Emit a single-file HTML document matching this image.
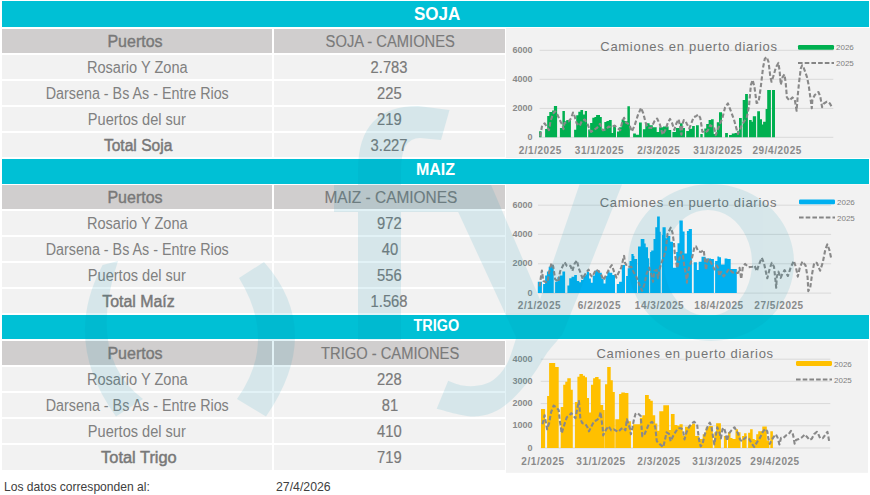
<!DOCTYPE html>
<html><head><meta charset="utf-8"><style>
*{margin:0;padding:0;box-sizing:border-box}
html,body{width:870px;height:495px;overflow:hidden;background:#fff}
body{position:relative;font-family:"Liberation Sans",sans-serif}
.r{position:absolute}
.t{position:absolute;white-space:nowrap}
svg{position:absolute;left:0;top:0}
.yl{font-size:9px;font-weight:bold;fill:#8A8A8A;font-family:"Liberation Sans",sans-serif}
.xl{font-size:10px;font-weight:bold;fill:#8A8A8A;font-family:"Liberation Sans",sans-serif;letter-spacing:0.55px}
.ti{font-size:13px;fill:#757575;font-family:"Liberation Sans",sans-serif;letter-spacing:0.71px}
.lg{font-size:8px;fill:#7F7F7F;font-family:"Liberation Sans",sans-serif}
</style></head><body>
<svg width="870" height="495" viewBox="0 0 870 495"><rect x="506" y="28" width="364" height="130" fill="#F2F2F2"/><line x1="539.6" y1="50.3" x2="833.3" y2="50.3" stroke="#D9D9D9" stroke-width="1"/><text x="532.5" y="52.9" text-anchor="end" class="yl">6000</text><line x1="539.6" y1="79.3" x2="833.3" y2="79.3" stroke="#D9D9D9" stroke-width="1"/><text x="532.5" y="81.9" text-anchor="end" class="yl">4000</text><line x1="539.6" y1="108.4" x2="833.3" y2="108.4" stroke="#D9D9D9" stroke-width="1"/><text x="532.5" y="111.0" text-anchor="end" class="yl">2000</text><line x1="539.6" y1="137.3" x2="833.3" y2="137.3" stroke="#D9D9D9" stroke-width="1"/><text x="532.5" y="139.9" text-anchor="end" class="yl">0</text><text x="540.3" y="153.5" text-anchor="middle" class="xl">2/1/2025</text><text x="599.5" y="153.5" text-anchor="middle" class="xl">31/1/2025</text><text x="658.8" y="153.5" text-anchor="middle" class="xl">2/3/2025</text><text x="718" y="153.5" text-anchor="middle" class="xl">31/3/2025</text><text x="777.2" y="153.5" text-anchor="middle" class="xl">29/4/2025</text><text x="600.3" y="51.2" class="ti">Camiones en puerto diarios</text><rect x="798" y="45.0" width="36" height="4.8" rx="1.3" fill="#00B050"/><text x="836" y="50.4" class="lg">2026</text><line x1="798" y1="63" x2="834" y2="63" stroke="#858585" stroke-width="2" stroke-dasharray="4.6,2.1"/><text x="836" y="66" class="lg">2025</text><rect x="506" y="184.5" width="364" height="130.5" fill="#F2F2F2"/><line x1="538" y1="205.2" x2="831.1" y2="205.2" stroke="#D9D9D9" stroke-width="1"/><text x="532.5" y="207.8" text-anchor="end" class="yl">6000</text><line x1="538" y1="234.4" x2="831.1" y2="234.4" stroke="#D9D9D9" stroke-width="1"/><text x="532.5" y="237.0" text-anchor="end" class="yl">4000</text><line x1="538" y1="263.8" x2="831.1" y2="263.8" stroke="#D9D9D9" stroke-width="1"/><text x="532.5" y="266.4" text-anchor="end" class="yl">2000</text><line x1="538" y1="293.1" x2="831.1" y2="293.1" stroke="#D9D9D9" stroke-width="1"/><text x="532.5" y="295.7" text-anchor="end" class="yl">0</text><text x="539.5" y="308.9" text-anchor="middle" class="xl">2/1/2025</text><text x="599.4" y="308.9" text-anchor="middle" class="xl">6/2/2025</text><text x="659.5" y="308.9" text-anchor="middle" class="xl">14/3/2025</text><text x="719" y="308.9" text-anchor="middle" class="xl">18/4/2025</text><text x="779" y="308.9" text-anchor="middle" class="xl">27/5/2025</text><text x="599.7" y="207" class="ti">Camiones en puerto diarios</text><rect x="799" y="199.4" width="36" height="4.8" rx="1.3" fill="#00B0F0"/><text x="837" y="204.8" class="lg">2026</text><line x1="799" y1="217.6" x2="835" y2="217.6" stroke="#858585" stroke-width="2" stroke-dasharray="4.6,2.1"/><text x="837" y="220.6" class="lg">2025</text><rect x="506" y="340.5" width="362" height="132.3" fill="#F2F2F2"/><line x1="540.7" y1="359.2" x2="830.3" y2="359.2" stroke="#D9D9D9" stroke-width="1"/><text x="532.5" y="361.8" text-anchor="end" class="yl">4000</text><line x1="540.7" y1="381.3" x2="830.3" y2="381.3" stroke="#D9D9D9" stroke-width="1"/><text x="532.5" y="383.9" text-anchor="end" class="yl">3000</text><line x1="540.7" y1="403.6" x2="830.3" y2="403.6" stroke="#D9D9D9" stroke-width="1"/><text x="532.5" y="406.2" text-anchor="end" class="yl">2000</text><line x1="540.7" y1="425.8" x2="830.3" y2="425.8" stroke="#D9D9D9" stroke-width="1"/><text x="532.5" y="428.4" text-anchor="end" class="yl">1000</text><line x1="540.7" y1="448" x2="830.3" y2="448" stroke="#D9D9D9" stroke-width="1"/><text x="532.5" y="450.6" text-anchor="end" class="yl">0</text><text x="543" y="465.0" text-anchor="middle" class="xl">2/1/2025</text><text x="601" y="465.0" text-anchor="middle" class="xl">31/1/2025</text><text x="659" y="465.0" text-anchor="middle" class="xl">2/3/2025</text><text x="717" y="465.0" text-anchor="middle" class="xl">31/3/2025</text><text x="775" y="465.0" text-anchor="middle" class="xl">29/4/2025</text><text x="596.4" y="358.1" class="ti">Camiones en puerto diarios</text><rect x="796" y="361.1" width="36" height="4.8" rx="1.3" fill="#FFC000"/><text x="834" y="366.5" class="lg">2026</text><line x1="796" y1="379.5" x2="832" y2="379.5" stroke="#858585" stroke-width="2" stroke-dasharray="4.6,2.1"/><text x="834" y="382.5" class="lg">2025</text><path d="M539.1,137.3 V131.2 H541.5 V137.3 Z M545.1,137.3 V129.1 H547.2 V137.3 Z M547.2,137.3 V116.0 H549.3 V137.3 Z M549.3,137.3 V112.1 H552.1 V137.3 Z M552.1,137.3 V110.4 H553.9 V137.3 Z M553.9,137.3 V106.1 H557.1 V137.3 Z M559.9,137.3 V128.0 H562.4 V137.3 Z M562.4,137.3 V111.1 H564.9 V137.3 Z M564.9,137.3 V121.3 H566.3 V137.3 Z M566.3,137.3 V120.1 H570.9 V137.3 Z M574.1,137.3 V129.8 H576.2 V137.3 Z M576.2,137.3 V115.3 H578.3 V137.3 Z M578.3,137.3 V111.8 H580.4 V137.3 Z M580.4,137.3 V110.0 H583.1 V137.3 Z M583.1,137.3 V114.6 H584.8 V137.3 Z M584.8,137.3 V111.1 H587.0 V137.3 Z M588.2,137.3 V129.5 H590.1 V137.3 Z M590.1,137.3 V123.1 H592.3 V137.3 Z M592.3,137.3 V117.8 H594.4 V137.3 Z M594.4,137.3 V117.1 H596.1 V137.3 Z M596.1,137.3 V115.0 H600.0 V137.3 Z M600.0,137.3 V117.1 H601.8 V137.3 Z M601.8,137.3 V129.5 H604.3 V137.3 Z M604.3,137.3 V122.0 H606.4 V137.3 Z M606.4,137.3 V121.0 H608.9 V137.3 Z M608.9,137.3 V120.1 H611.7 V137.3 Z M611.7,137.3 V133.0 H613.1 V137.3 Z M613.1,137.3 V125.2 H616.0 V137.3 Z M617.0,137.3 V131.6 H619.1 V137.3 Z M619.1,137.3 V127.3 H621.6 V137.3 Z M621.6,137.3 V119.6 H624.4 V137.3 Z M624.4,137.3 V121.0 H626.0 V137.3 Z M626.0,137.3 V121.3 H627.4 V137.3 Z M627.4,137.3 V106.3 H629.9 V137.3 Z M633.1,137.3 V133.5 H635.9 V137.3 Z M635.9,137.3 V134.7 H639.0 V137.3 Z M639.0,137.3 V122.5 H641.8 V137.3 Z M642.9,137.3 V129.2 H645.3 V137.3 Z M645.3,137.3 V123.2 H649.6 V137.3 Z M649.6,137.3 V125.2 H652.8 V137.3 Z M652.8,137.3 V127.2 H656.7 V137.3 Z M656.7,137.3 V131.9 H659.1 V137.3 Z M659.1,137.3 V127.2 H663.0 V137.3 Z M663.0,137.3 V126.4 H668.6 V137.3 Z M668.6,137.3 V130.1 H671.2 V137.3 Z M672.4,137.3 V131.9 H675.9 V137.3 Z M675.9,137.3 V128.0 H679.9 V137.3 Z M679.9,137.3 V123.2 H682.6 V137.3 Z M682.6,137.3 V128.0 H685.0 V137.3 Z M686.2,137.3 V131.1 H688.9 V137.3 Z M688.9,137.3 V128.8 H692.1 V137.3 Z M692.1,137.3 V126.0 H694.8 V137.3 Z M696.0,137.3 V125.2 H698.8 V137.3 Z M700.3,137.3 V134.0 H702.7 V137.3 Z M704.3,137.3 V128.4 H706.2 V137.3 Z M706.2,137.3 V124.0 H708.6 V137.3 Z M708.6,137.3 V120.1 H711.0 V137.3 Z M711.0,137.3 V119.3 H713.7 V137.3 Z M713.7,137.3 V134.0 H716.8 V137.3 Z M716.8,137.3 V122.3 H719.0 V137.3 Z M719.0,137.3 V112.3 H722.0 V137.3 Z M725.1,137.3 V132.9 H727.9 V137.3 Z M729.0,137.3 V135.1 H731.8 V137.3 Z M731.8,137.3 V133.4 H734.6 V137.3 Z M734.6,137.3 V132.9 H737.3 V137.3 Z M737.3,137.3 V130.7 H739.0 V137.3 Z M739.0,137.3 V117.9 H741.8 V137.3 Z M742.7,137.3 V100.1 H745.1 V137.3 Z M745.1,137.3 V94.0 H747.9 V137.3 Z M749.0,137.3 V120.1 H751.7 V137.3 Z M751.7,137.3 V121.8 H752.8 V137.3 Z M752.8,137.3 V116.2 H756.1 V137.3 Z M757.2,137.3 V111.2 H760.0 V137.3 Z M760.0,137.3 V119.3 H762.0 V137.3 Z M762.0,137.3 V124.6 H763.1 V137.3 Z M763.1,137.3 V121.8 H765.6 V137.3 Z M765.6,137.3 V109.0 H767.2 V137.3 Z M767.2,137.3 V90.1 H770.9 V137.3 Z M772.0,137.3 V90.1 H775.0 V137.3 Z" fill="#00B050"/><polyline points="540.1,136.5 542.2,125.2 544.7,123.4 547.2,127.3 549.0,130.2 550.4,121.7 552.9,113.9 555.0,111.4 557.4,114.6 559.9,120.3 562.4,125.2 563.5,129.1 564.5,123.1 568.4,121.7 571.2,118.1 573.0,112.5 574.8,116.7 576.5,123.1 579.7,125.9 582.0,120.6 584.8,119.6 587.7,124.5 589.1,128.0 591.2,131.9 594.4,129.5 596.9,128.0 600.0,123.8 602.9,130.2 606.0,129.5 608.5,126.6 611.7,127.3 614.5,125.6 617.4,128.0 620.2,130.2 622.3,121.7 624.1,117.8 626.0,122.5 629.2,124.4 631.9,131.5 634.7,125.2 637.8,115.4 641.0,107.9 643.3,113.4 645.7,122.9 647.7,127.6 651.2,128.0 654.4,121.3 657.1,118.5 659.9,124.4 662.6,134.7 665.4,129.9 667.8,122.9 670.0,118.9 672.0,122.9 674.3,129.9 676.3,123.6 678.7,119.3 680.6,129.9 681.4,134.7 682.6,123.6 683.8,120.1 685.4,120.9 686.9,124.0 689.3,128.4 690.9,124.4 693.6,117.3 696.0,116.2 698.4,114.6 700.3,118.1 701.5,126.0 702.3,131.5 704.7,132.7 707.8,130.7 710.2,125.2 712.9,127.2 714.0,127.3 715.7,135.1 719.0,126.2 722.3,118.4 725.1,107.3 727.9,103.4 730.7,110.7 734.0,119.6 737.9,134.0 741.8,125.1 746.8,117.3 749.0,106.2 750.9,84.8 752.7,80.0 754.5,87.3 756.6,103.0 758.6,102.0 760.6,88.5 763.0,67.9 764.8,58.8 766.7,57.0 768.5,61.8 770.3,76.4 771.5,81.8 773.3,76.4 776.0,67.1 778.4,62.9 779.6,70.8 780.8,84.7 782.7,76.8 784.5,74.4 785.7,82.9 786.9,97.4 789.3,100.5 792.4,97.4 794.8,99.8 796.6,110.8 797.8,95.0 799.0,82.9 800.8,68.3 802.1,65.3 803.9,68.3 806.9,76.8 808.7,85.3 810.5,98.6 811.8,108.3 812.4,99.8 814.8,95.0 818.4,92.0 820.2,96.2 822.1,107.1 823.9,103.5 826.9,101.7 829.9,103.5 832.4,108.3" fill="none" stroke="#898989" stroke-width="2.1" stroke-dasharray="4.4,2.2" stroke-linejoin="round"/><path d="M537.8,293.1 V281.8 H541.9 V293.1 Z M543.1,293.1 V284.1 H545.1 V293.1 Z M545.1,293.1 V275.5 H546.9 V293.1 Z M546.9,293.1 V271.4 H548.7 V293.1 Z M548.7,293.1 V266.8 H550.5 V293.1 Z M550.5,293.1 V265.0 H553.7 V293.1 Z M555.1,293.1 V281.8 H557.4 V293.1 Z M557.4,293.1 V277.3 H559.6 V293.1 Z M559.6,293.1 V275.5 H562.4 V293.1 Z M562.4,293.1 V271.4 H565.1 V293.1 Z M567.4,293.1 V285.5 H569.2 V293.1 Z M569.2,293.1 V278.2 H571.5 V293.1 Z M571.5,293.1 V276.8 H574.2 V293.1 Z M574.2,293.1 V275.0 H576.9 V293.1 Z M576.9,293.1 V280.9 H579.2 V293.1 Z M579.2,293.1 V282.3 H581.0 V293.1 Z M581.0,293.1 V280.0 H583.3 V293.1 Z M583.3,293.1 V275.6 H586.0 V293.1 Z M586.0,293.1 V274.5 H586.8 V293.1 Z M586.8,293.1 V271.8 H589.1 V293.1 Z M589.1,293.1 V278.6 H590.9 V293.1 Z M590.9,293.1 V282.7 H592.7 V293.1 Z M592.7,293.1 V275.5 H595.0 V293.1 Z M595.0,293.1 V270.5 H596.8 V293.1 Z M596.8,293.1 V270.0 H599.5 V293.1 Z M599.5,293.1 V272.7 H601.8 V293.1 Z M601.8,293.1 V279.1 H603.6 V293.1 Z M603.6,293.1 V283.6 H605.5 V293.1 Z M605.5,293.1 V275.9 H607.3 V293.1 Z M607.3,293.1 V270.9 H609.5 V293.1 Z M609.5,293.1 V272.7 H612.3 V293.1 Z M612.3,293.1 V275.0 H615.0 V293.1 Z M616.8,293.1 V284.1 H619.1 V293.1 Z M619.1,293.1 V281.8 H621.8 V293.1 Z M621.8,293.1 V265.0 H625.0 V293.1 Z M626.1,293.1 V275.9 H627.7 V293.1 Z M627.7,293.1 V268.2 H629.5 V293.1 Z M629.5,293.1 V260.9 H631.4 V293.1 Z M631.4,293.1 V254.1 H633.6 V293.1 Z M633.6,293.1 V256.0 H634.4 V293.1 Z M634.4,293.1 V259.1 H637.1 V293.1 Z M638.0,293.1 V246.4 H640.7 V293.1 Z M640.7,293.1 V239.1 H644.4 V293.1 Z M644.4,293.1 V243.6 H645.7 V293.1 Z M645.7,293.1 V247.3 H648.0 V293.1 Z M648.0,293.1 V258.2 H649.2 V293.1 Z M650.1,293.1 V252.0 H651.2 V293.1 Z M651.2,293.1 V250.5 H653.5 V293.1 Z M653.5,293.1 V239.1 H655.3 V293.1 Z M655.3,293.1 V227.3 H657.1 V293.1 Z M657.1,293.1 V216.4 H659.8 V293.1 Z M659.8,293.1 V231.8 H660.7 V293.1 Z M661.9,293.1 V235.0 H662.5 V293.1 Z M662.5,293.1 V227.3 H665.7 V293.1 Z M665.7,293.1 V238.2 H667.1 V293.1 Z M667.1,293.1 V235.9 H670.3 V293.1 Z M670.3,293.1 V241.8 H673.0 V293.1 Z M673.0,293.1 V267.7 H676.2 V293.1 Z M676.2,293.1 V252.0 H677.5 V293.1 Z M677.5,293.1 V243.2 H679.4 V293.1 Z M679.4,293.1 V220.5 H682.8 V293.1 Z M682.8,293.1 V231.4 H684.6 V293.1 Z M684.6,293.1 V253.6 H686.9 V293.1 Z M686.9,293.1 V230.9 H688.7 V293.1 Z M688.7,293.1 V229.1 H691.9 V293.1 Z M693.7,293.1 V262.3 H696.9 V293.1 Z M696.9,293.1 V270.0 H698.7 V293.1 Z M698.7,293.1 V261.8 H701.5 V293.1 Z M701.5,293.1 V256.8 H705.5 V293.1 Z M705.5,293.1 V258.6 H711.0 V293.1 Z M711.0,293.1 V259.1 H713.9 V293.1 Z M715.1,293.1 V260.9 H717.4 V293.1 Z M717.4,293.1 V256.4 H719.2 V293.1 Z M719.2,293.1 V257.3 H721.0 V293.1 Z M721.0,293.1 V264.5 H724.6 V293.1 Z M724.6,293.1 V258.6 H727.4 V293.1 Z M727.4,293.1 V259.1 H729.0 V293.1 Z M729.0,293.1 V258.9 H730.7 V293.1 Z M730.7,293.1 V268.9 H733.4 V293.1 Z M733.4,293.1 V268.9 H736.8 V293.1 Z" fill="#00B0F0"/><polyline points="539.6,286.4 541.0,276.4 541.9,270.5 543.3,280.9 545.1,281.8 547.4,282.7 549.2,271.8 551.5,263.2 553.3,266.8 555.1,279.1 558.3,281.8 560.1,271.4 562.4,266.8 564.6,262.3 566.9,265.9 570.5,265.9 572.4,270.9 574.6,263.6 576.9,260.5 578.7,268.2 581.0,274.1 582.8,279.1 585.0,274.5 588.6,269.5 590.5,275.0 592.3,276.8 595.9,269.5 598.6,271.4 600.9,274.1 603.6,280.0 606.8,273.6 609.5,268.2 611.8,265.0 614.1,271.8 616.4,277.7 618.6,272.7 621.4,267.3 623.2,259.1 624.1,255.9 625.0,262.7 627.3,266.8 631.4,266.8 633.0,270.9 636.6,277.3 639.4,284.5 642.1,290.9 644.4,284.5 646.6,273.6 649.4,267.7 652.1,277.3 653.0,281.8 654.4,270.9 656.6,270.0 658.0,278.2 659.4,269.5 661.2,263.6 663.9,256.4 665.7,250.0 666.6,241.8 667.5,234.1 670.7,227.7 672.5,232.7 673.9,242.7 674.8,253.6 677.1,268.2 679.4,259.1 681.0,251.8 682.8,254.5 684.6,268.2 686.0,274.5 686.9,282.7 687.8,273.6 689.2,267.3 691.0,261.8 692.8,254.5 694.6,246.4 696.0,246.4 698.3,251.4 701.0,252.0 703.7,250.0 705.1,261.8 706.0,270.0 707.4,260.0 709.2,259.1 711.9,264.5 714.6,269.5 716.9,265.5 718.3,268.2 719.2,275.9 721.0,271.8 723.7,276.4 726.5,272.7 729.0,268.9 732.3,272.2 735.7,273.3 738.4,272.8 739.6,267.8 741.2,278.9 742.9,266.7 745.1,263.9 748.4,267.2 752.3,266.7 754.6,265.6 756.8,271.1 759.0,264.4 761.8,257.8 764.0,263.3 765.7,271.1 767.3,278.3 769.6,268.9 771.8,262.8 774.0,266.7 775.1,276.7 776.2,287.8 776.8,276.7 778.4,271.7 780.7,277.8 782.0,274.6 784.6,270.1 787.9,276.0 790.5,268.1 793.8,260.9 795.8,266.8 797.8,276.6 799.7,268.1 802.4,261.5 805.6,265.5 807.6,277.3 808.3,291.1 810.2,287.8 812.2,273.3 814.2,262.8 816.8,262.8 820.1,270.7 822.7,262.8 825.3,249.7 827.3,244.4 829.3,249.7 831.2,258.2" fill="none" stroke="#898989" stroke-width="2.1" stroke-dasharray="4.4,2.2" stroke-linejoin="round"/><path d="M541.0,448 V409.1 H545.1 V448 Z M547.1,448 V395.9 H549.1 V448 Z M549.1,448 V363.1 H555.2 V448 Z M555.2,448 V367.1 H558.7 V448 Z M560.7,448 V407.1 H563.2 V448 Z M563.2,448 V384.8 H565.3 V448 Z M565.3,448 V381.8 H567.3 V448 Z M567.3,448 V378.2 H570.8 V448 Z M570.8,448 V389.8 H572.8 V448 Z M574.9,448 V402.0 H577.4 V448 Z M577.4,448 V376.7 H579.4 V448 Z M579.4,448 V374.0 H582.9 V448 Z M582.9,448 V375.7 H585.0 V448 Z M585.0,448 V377.2 H587.0 V448 Z M587.0,448 V397.9 H589.0 V448 Z M589.0,448 V412.6 H591.0 V448 Z M591.0,448 V384.8 H593.1 V448 Z M593.1,448 V378.2 H595.1 V448 Z M595.1,448 V377.0 H598.6 V448 Z M598.6,448 V379.2 H600.6 V448 Z M600.6,448 V405.0 H603.2 V448 Z M603.2,448 V410.1 H604.7 V448 Z M605.0,448 V384.3 H607.2 V448 Z M607.2,448 V367.1 H610.7 V448 Z M610.7,448 V380.3 H612.8 V448 Z M612.8,448 V391.9 H614.8 V448 Z M615.3,448 V419.2 H619.1 V448 Z M619.1,448 V393.9 H621.3 V448 Z M621.3,448 V392.4 H624.9 V448 Z M624.9,448 V392.9 H628.4 V448 Z M628.4,448 V421.2 H630.9 V448 Z M633.0,448 V424.2 H635.0 V448 Z M635.0,448 V424.2 H639.9 V448 Z M639.9,448 V417.7 H642.3 V448 Z M642.3,448 V415.3 H645.0 V448 Z M645.0,448 V395.1 H648.8 V448 Z M648.8,448 V399.1 H650.4 V448 Z M650.4,448 V400.7 H652.8 V448 Z M652.8,448 V415.3 H655.2 V448 Z M655.2,448 V423.4 H657.3 V448 Z M657.3,448 V430.7 H659.3 V448 Z M659.3,448 V411.3 H663.3 V448 Z M663.3,448 V405.3 H669.0 V448 Z M669.0,448 V430.0 H670.9 V448 Z M670.9,448 V414.0 H674.6 V448 Z M674.6,448 V425.0 H677.4 V448 Z M677.4,448 V425.8 H679.5 V448 Z M679.5,448 V424.2 H682.7 V448 Z M682.7,448 V435.7 H685.0 V448 Z M685.0,448 V426.8 H688.6 V448 Z M688.6,448 V425.3 H692.1 V448 Z M692.1,448 V423.7 H695.1 V448 Z M695.1,448 V435.9 H699.2 V448 Z M699.2,448 V438.9 H702.7 V448 Z M702.7,448 V434.3 H705.7 V448 Z M705.7,448 V427.3 H708.8 V448 Z M708.8,448 V426.1 H712.8 V448 Z M714.3,448 V432.3 H716.1 V448 Z M716.1,448 V423.2 H720.9 V448 Z M723.9,448 V435.9 H726.9 V448 Z M728.0,448 V432.3 H730.5 V448 Z M730.5,448 V437.9 H732.5 V448 Z M732.5,448 V438.9 H735.5 V448 Z M735.5,448 V429.3 H738.0 V448 Z M738.0,448 V432.3 H740.5 V448 Z M742.1,448 V435.9 H744.1 V448 Z M744.1,448 V433.3 H746.6 V448 Z M748.1,448 V432.8 H750.1 V448 Z M750.1,448 V429.3 H752.7 V448 Z M752.7,448 V438.9 H754.7 V448 Z M754.7,448 V440.0 H756.2 V448 Z M756.2,448 V434.3 H758.2 V448 Z M758.2,448 V431.3 H762.3 V448 Z M762.3,448 V426.5 H766.8 V448 Z M766.8,448 V440.4 H769.3 V448 Z M770.3,448 V431.3 H772.9 V448 Z" fill="#FFC000"/><polyline points="542.5,424.2 544.6,415.2 545.6,420.7 547.1,429.3 549.1,423.2 551.1,412.1 553.6,405.6 556.7,407.6 558.7,410.1 559.7,420.2 560.7,426.3 561.7,433.3 564.3,424.7 566.8,417.2 569.3,415.2 571.3,413.1 573.8,416.2 575.4,418.2 577.4,408.1 578.9,401.0 579.4,406.1 580.4,419.2 582.4,423.2 585.5,424.2 587.5,427.3 589.0,431.3 591.5,426.3 594.1,421.2 596.6,420.2 599.1,418.2 600.6,412.1 601.6,420.2 602.7,428.3 603.2,435.4 606.2,429.3 608.7,426.3 611.2,430.3 613.8,429.3 616.3,430.8 618.3,431.8 621.3,428.8 623.4,427.8 625.4,430.3 626.9,419.2 628.4,424.2 629.9,428.3 630.9,434.3 632.5,427.3 634.0,419.2 635.5,414.0 637.4,412.9 640.7,416.1 642.3,436.3 644.7,433.9 648.8,424.2 652.0,421.8 655.2,426.6 656.8,441.2 660.1,444.4 663.3,447.2 666.6,432.3 669.0,433.9 670.6,441.2 673.8,434.7 677.9,428.3 681.1,428.3 683.0,430.0 684.5,439.4 686.5,432.3 689.1,426.8 691.6,423.7 694.1,421.7 697.1,424.2 698.2,433.3 699.2,440.4 700.7,446.5 702.7,443.4 704.2,436.4 706.2,430.3 708.3,424.7 709.8,422.7 711.3,425.8 712.8,435.4 714.3,444.4 715.8,435.4 717.3,427.3 719.4,432.3 720.9,438.4 722.4,429.3 723.9,427.8 725.4,432.3 726.9,440.9 729.0,433.3 731.5,430.3 734.5,427.3 736.2,430.3 738.0,433.3 740.0,439.4 742.1,441.4 744.1,438.9 746.1,437.4 749.1,438.9 751.7,443.4 754.2,447.0 757.2,441.9 760.2,437.4 762.8,431.8 765.3,428.8 767.3,431.3 768.3,438.4 769.8,443.9 771.4,440.4 773.4,437.4 775.9,434.3 777.9,438.4 779.4,444.4 781.0,437.9 783.5,437.9 786.0,435.4 788.7,434.1 791.0,430.9 792.8,434.1 793.7,437.7 794.6,443.6 796.0,440.0 798.7,439.1 801.9,437.3 805.1,434.5 806.9,436.8 809.6,440.0 811.9,438.6 814.2,434.1 816.9,431.8 818.3,434.1 820.1,438.2 822.8,438.2 825.1,435.0 827.4,431.8 828.3,436.4 829.2,441.4" fill="none" stroke="#898989" stroke-width="2.1" stroke-dasharray="4.4,2.2" stroke-linejoin="round"/></svg>
<div class="r" style="left:2px;top:1px;width:867px;height:26px;background:#00C0D5"></div><div class="t" style="left:4px;top:5.04px;width:867px;font-size:18.5px;line-height:18.5px;font-weight:bold;color:#FFFFFF;text-align:center;"><span style="display:inline-block;transform:scaleX(0.92);transform-origin:center;">SOJA</span></div><div class="r" style="left:2px;top:29px;width:270px;height:24px;background:#D0CECE"></div><div class="r" style="left:274px;top:29px;width:231px;height:24px;background:#D0CECE"></div><div class="t" style="left:0px;top:34.46px;width:270px;font-size:16px;line-height:16px;font-weight:normal;color:#787878;text-align:center;-webkit-text-stroke:0.4px #787878;"><span style="display:inline-block;transform-origin:center;">Puertos</span></div><div class="t" style="left:275px;top:34.46px;width:231px;font-size:16px;line-height:16px;font-weight:normal;color:#7A7A7A;text-align:center;-webkit-text-stroke:0.15px #7A7A7A;"><span style="display:inline-block;transform:scaleX(0.92);transform-origin:center;">SOJA - CAMIONES</span></div><div class="r" style="left:2px;top:55px;width:270px;height:24px;background:#F2F2F2"></div><div class="r" style="left:274px;top:55px;width:231px;height:24px;background:#F2F2F2"></div><div class="t" style="left:2px;top:60.46px;width:270px;font-size:16px;line-height:16px;font-weight:normal;color:#808080;text-align:center;"><span style="display:inline-block;transform:scaleX(0.91);transform-origin:center;">Rosario Y Zona</span></div><div class="t" style="left:274px;top:60.46px;width:231px;font-size:16px;line-height:16px;font-weight:normal;color:#7A7A7A;text-align:center;-webkit-text-stroke:0.2px #7A7A7A;"><span style="display:inline-block;transform:scaleX(0.92);transform-origin:center;">2.783</span></div><div class="r" style="left:2px;top:81px;width:270px;height:24px;background:#F2F2F2"></div><div class="r" style="left:274px;top:81px;width:231px;height:24px;background:#F2F2F2"></div><div class="t" style="left:2px;top:86.46px;width:270px;font-size:16px;line-height:16px;font-weight:normal;color:#808080;text-align:center;"><span style="display:inline-block;transform:scaleX(0.895);transform-origin:center;">Darsena - Bs As - Entre Rios</span></div><div class="t" style="left:274px;top:86.46px;width:231px;font-size:16px;line-height:16px;font-weight:normal;color:#7A7A7A;text-align:center;-webkit-text-stroke:0.2px #7A7A7A;"><span style="display:inline-block;transform:scaleX(0.92);transform-origin:center;">225</span></div><div class="r" style="left:2px;top:107px;width:270px;height:24px;background:#F2F2F2"></div><div class="r" style="left:274px;top:107px;width:231px;height:24px;background:#F2F2F2"></div><div class="t" style="left:2px;top:112.46px;width:270px;font-size:16px;line-height:16px;font-weight:normal;color:#808080;text-align:center;"><span style="display:inline-block;transform:scaleX(0.91);transform-origin:center;">Puertos del sur</span></div><div class="t" style="left:274px;top:112.46px;width:231px;font-size:16px;line-height:16px;font-weight:normal;color:#7A7A7A;text-align:center;-webkit-text-stroke:0.2px #7A7A7A;"><span style="display:inline-block;transform:scaleX(0.92);transform-origin:center;">219</span></div><div class="r" style="left:2px;top:133px;width:270px;height:24px;background:#F2F2F2"></div><div class="r" style="left:274px;top:133px;width:231px;height:24px;background:#F2F2F2"></div><div class="t" style="left:3.5px;top:138.46px;width:270px;font-size:16px;line-height:16px;font-weight:normal;color:#787878;text-align:center;-webkit-text-stroke:0.45px #787878;"><span style="display:inline-block;transform:scaleX(0.975);transform-origin:center;">Total Soja</span></div><div class="t" style="left:274px;top:138.46px;width:231px;font-size:16px;line-height:16px;font-weight:normal;color:#7A7A7A;text-align:center;-webkit-text-stroke:0.2px #7A7A7A;"><span style="display:inline-block;transform:scaleX(0.92);transform-origin:center;">3.227</span></div><div class="r" style="left:2px;top:159px;width:867px;height:25px;background:#00C0D5"></div><div class="t" style="left:2px;top:162.26px;width:867px;font-size:16px;line-height:16px;font-weight:bold;color:#FFFFFF;text-align:center;"><span style="display:inline-block;transform-origin:center;">MAIZ</span></div><div class="r" style="left:2px;top:185px;width:270px;height:24px;background:#D0CECE"></div><div class="r" style="left:274px;top:185px;width:231px;height:24px;background:#D0CECE"></div><div class="t" style="left:0px;top:190.46px;width:270px;font-size:16px;line-height:16px;font-weight:normal;color:#787878;text-align:center;-webkit-text-stroke:0.4px #787878;"><span style="display:inline-block;transform-origin:center;">Puertos</span></div><div class="t" style="left:275px;top:190.46px;width:231px;font-size:16px;line-height:16px;font-weight:normal;color:#7A7A7A;text-align:center;-webkit-text-stroke:0.15px #7A7A7A;"><span style="display:inline-block;transform:scaleX(0.965);transform-origin:center;">MAIZ - CAMIONES</span></div><div class="r" style="left:2px;top:211px;width:270px;height:24px;background:#F2F2F2"></div><div class="r" style="left:274px;top:211px;width:231px;height:24px;background:#F2F2F2"></div><div class="t" style="left:2px;top:216.46px;width:270px;font-size:16px;line-height:16px;font-weight:normal;color:#808080;text-align:center;"><span style="display:inline-block;transform:scaleX(0.91);transform-origin:center;">Rosario Y Zona</span></div><div class="t" style="left:274px;top:216.46px;width:231px;font-size:16px;line-height:16px;font-weight:normal;color:#7A7A7A;text-align:center;-webkit-text-stroke:0.2px #7A7A7A;"><span style="display:inline-block;transform:scaleX(0.92);transform-origin:center;">972</span></div><div class="r" style="left:2px;top:237px;width:270px;height:24px;background:#F2F2F2"></div><div class="r" style="left:274px;top:237px;width:231px;height:24px;background:#F2F2F2"></div><div class="t" style="left:2px;top:242.46px;width:270px;font-size:16px;line-height:16px;font-weight:normal;color:#808080;text-align:center;"><span style="display:inline-block;transform:scaleX(0.895);transform-origin:center;">Darsena - Bs As - Entre Rios</span></div><div class="t" style="left:274px;top:242.46px;width:231px;font-size:16px;line-height:16px;font-weight:normal;color:#7A7A7A;text-align:center;-webkit-text-stroke:0.2px #7A7A7A;"><span style="display:inline-block;transform:scaleX(0.92);transform-origin:center;">40</span></div><div class="r" style="left:2px;top:263px;width:270px;height:24px;background:#F2F2F2"></div><div class="r" style="left:274px;top:263px;width:231px;height:24px;background:#F2F2F2"></div><div class="t" style="left:2px;top:268.46px;width:270px;font-size:16px;line-height:16px;font-weight:normal;color:#808080;text-align:center;"><span style="display:inline-block;transform:scaleX(0.91);transform-origin:center;">Puertos del sur</span></div><div class="t" style="left:274px;top:268.46px;width:231px;font-size:16px;line-height:16px;font-weight:normal;color:#7A7A7A;text-align:center;-webkit-text-stroke:0.2px #7A7A7A;"><span style="display:inline-block;transform:scaleX(0.92);transform-origin:center;">556</span></div><div class="r" style="left:2px;top:289px;width:270px;height:24px;background:#F2F2F2"></div><div class="r" style="left:274px;top:289px;width:231px;height:24px;background:#F2F2F2"></div><div class="t" style="left:3.5px;top:294.46px;width:270px;font-size:16px;line-height:16px;font-weight:normal;color:#787878;text-align:center;-webkit-text-stroke:0.45px #787878;"><span style="display:inline-block;transform:scaleX(0.995);transform-origin:center;">Total Maíz</span></div><div class="t" style="left:274px;top:294.46px;width:231px;font-size:16px;line-height:16px;font-weight:normal;color:#7A7A7A;text-align:center;-webkit-text-stroke:0.2px #7A7A7A;"><span style="display:inline-block;transform:scaleX(0.92);transform-origin:center;">1.568</span></div><div class="r" style="left:2px;top:315px;width:867px;height:24px;background:#00C0D5"></div><div class="t" style="left:3px;top:318.26px;width:867px;font-size:16px;line-height:16px;font-weight:bold;color:#FFFFFF;text-align:center;"><span style="display:inline-block;transform:scaleX(0.9);transform-origin:center;">TRIGO</span></div><div class="r" style="left:2px;top:341px;width:270px;height:24px;background:#D0CECE"></div><div class="r" style="left:274px;top:341px;width:231px;height:24px;background:#D0CECE"></div><div class="t" style="left:0px;top:346.46px;width:270px;font-size:16px;line-height:16px;font-weight:normal;color:#787878;text-align:center;-webkit-text-stroke:0.4px #787878;"><span style="display:inline-block;transform-origin:center;">Puertos</span></div><div class="t" style="left:275px;top:346.46px;width:231px;font-size:16px;line-height:16px;font-weight:normal;color:#7A7A7A;text-align:center;-webkit-text-stroke:0.15px #7A7A7A;"><span style="display:inline-block;transform:scaleX(0.92);transform-origin:center;">TRIGO - CAMIONES</span></div><div class="r" style="left:2px;top:367px;width:270px;height:24px;background:#F2F2F2"></div><div class="r" style="left:274px;top:367px;width:231px;height:24px;background:#F2F2F2"></div><div class="t" style="left:2px;top:372.46px;width:270px;font-size:16px;line-height:16px;font-weight:normal;color:#808080;text-align:center;"><span style="display:inline-block;transform:scaleX(0.91);transform-origin:center;">Rosario Y Zona</span></div><div class="t" style="left:274px;top:372.46px;width:231px;font-size:16px;line-height:16px;font-weight:normal;color:#7A7A7A;text-align:center;-webkit-text-stroke:0.2px #7A7A7A;"><span style="display:inline-block;transform:scaleX(0.92);transform-origin:center;">228</span></div><div class="r" style="left:2px;top:393px;width:270px;height:24px;background:#F2F2F2"></div><div class="r" style="left:274px;top:393px;width:231px;height:24px;background:#F2F2F2"></div><div class="t" style="left:2px;top:398.46px;width:270px;font-size:16px;line-height:16px;font-weight:normal;color:#808080;text-align:center;"><span style="display:inline-block;transform:scaleX(0.895);transform-origin:center;">Darsena - Bs As - Entre Rios</span></div><div class="t" style="left:274px;top:398.46px;width:231px;font-size:16px;line-height:16px;font-weight:normal;color:#7A7A7A;text-align:center;-webkit-text-stroke:0.2px #7A7A7A;"><span style="display:inline-block;transform:scaleX(0.92);transform-origin:center;">81</span></div><div class="r" style="left:2px;top:419px;width:270px;height:24px;background:#F2F2F2"></div><div class="r" style="left:274px;top:419px;width:231px;height:24px;background:#F2F2F2"></div><div class="t" style="left:2px;top:424.46px;width:270px;font-size:16px;line-height:16px;font-weight:normal;color:#808080;text-align:center;"><span style="display:inline-block;transform:scaleX(0.91);transform-origin:center;">Puertos del sur</span></div><div class="t" style="left:274px;top:424.46px;width:231px;font-size:16px;line-height:16px;font-weight:normal;color:#7A7A7A;text-align:center;-webkit-text-stroke:0.2px #7A7A7A;"><span style="display:inline-block;transform:scaleX(0.92);transform-origin:center;">410</span></div><div class="r" style="left:2px;top:445px;width:270px;height:25px;background:#F2F2F2"></div><div class="r" style="left:274px;top:445px;width:231px;height:25px;background:#F2F2F2"></div><div class="t" style="left:3.5px;top:450.46px;width:270px;font-size:16px;line-height:16px;font-weight:normal;color:#787878;text-align:center;-webkit-text-stroke:0.45px #787878;"><span style="display:inline-block;transform:scaleX(1.025);transform-origin:center;">Total Trigo</span></div><div class="t" style="left:274px;top:450.46px;width:231px;font-size:16px;line-height:16px;font-weight:normal;color:#7A7A7A;text-align:center;-webkit-text-stroke:0.2px #7A7A7A;"><span style="display:inline-block;transform:scaleX(0.92);transform-origin:center;">719</span></div><div class="t" style="left:4px;top:480.00px;width:200px;font-size:13px;line-height:13px;font-weight:normal;color:#404040;text-align:left;"><span style="display:inline-block;transform:scaleX(0.93);transform-origin:left;">Los datos corresponden al:</span></div><div class="t" style="left:276px;top:480.00px;width:100px;font-size:13px;line-height:13px;font-weight:normal;color:#404040;text-align:left;"><span style="display:inline-block;transform:scaleX(0.945);transform-origin:left;">27/4/2026</span></div>
<svg width="870" height="495" viewBox="0 0 870 495" style="pointer-events:none"><g fill="#0090B0" opacity="0.11"><path d="M102.6,265 Q61.5,341.2 116,416.6 L143,399 Q86.3,356 118,261 Z" fill-rule="evenodd"/><path d="M264,262 Q325,330.7 266,416.6 L237,399 Q278,341.5 239,278 Z" fill-rule="evenodd"/><path d="M358,340 L358,212 L334,212 L334,185 L358,185 L358,170 Q358,106 418,106 L449.5,110 L441,140 L420,138 Q401,138 401,170 L401,185 L491,185 L491,212 L401,212 L401,340 Z" fill-rule="evenodd"/><path d="M445.7,185 L491.1,185 L540,299.6 L579.5,184.6 L622,184.6 L600,240 C594.4,254.2 573.0,308.7 566.3,325.0 C559.5,341.3 562.7,333.0 559.5,337.7 C556.3,342.4 551.3,346.9 547.0,353.0 C542.7,359.1 538.7,367.1 533.6,374.1 C528.5,381.1 522.4,389.1 516.3,395.2 C510.2,401.3 503.5,407.1 497.1,410.6 C490.7,414.1 484.4,415.7 478.0,416.3 C471.6,416.9 465.7,415.7 458.8,414.4 C451.9,413.1 440.4,409.6 436.7,408.7 L448.2,380.8 C450.6,381.6 457.6,384.8 462.6,385.6 C467.6,386.4 472.9,386.6 478.0,385.6 C483.1,384.7 488.5,383.4 493.3,379.9 C498.1,376.4 502.9,371.5 506.7,364.5 C510.5,357.5 514.7,342.2 516.3,337.7 Z" fill-rule="evenodd"/><path d="M711,184 A83,78.5 0 1 0 711.01,184 Z M708,210 A44,53 0 1 1 707.99,210 Z" fill-rule="evenodd"/></g></svg>
</body></html>
